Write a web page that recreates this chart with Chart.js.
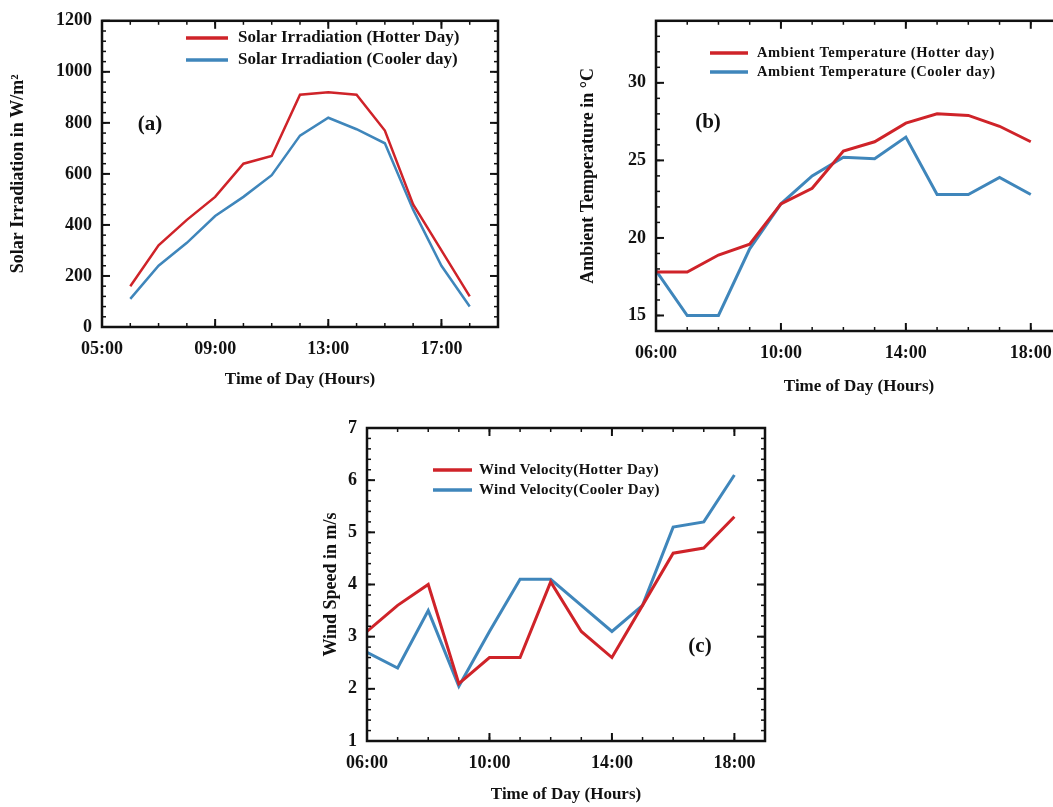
<!DOCTYPE html>
<html>
<head>
<meta charset="utf-8">
<script src="https://cdn.jsdelivr.net/npm/chart.js@4.4.1/dist/chart.umd.min.js"></script>
<style>
  html, body { margin: 0; padding: 0; background: #fff; }
  #page { position: relative; width: 1053px; height: 807px; overflow: hidden; background: #fff; }
  .panel { position: absolute; }
</style>
</head>
<body>
<div id="page">
  <div class="panel" style="left:0px; top:0px;"><canvas id="chartA" width="520" height="400"></canvas></div>
  <div class="panel" style="left:560px; top:0px;"><canvas id="chartB" width="520" height="400"></canvas></div>
  <div class="panel" style="left:300px; top:400px;"><canvas id="chartC" width="500" height="407"></canvas></div>
</div>
<script>
// Data
const hours = [6, 7, 8, 9, 10, 11, 12, 13, 14, 15, 16, 17, 18];

const solarHotter = [160, 320, 420, 510, 640, 670, 910, 920, 910, 770, 480, 300, 120];
const solarCooler = [110, 240, 330, 435, 510, 595, 750, 820, 775, 720, 460, 240, 80];

const tempHotter = [17.8, 17.8, 18.9, 19.6, 22.2, 23.2, 25.6, 26.2, 27.4, 28.0, 27.9, 27.2, 26.2];
const tempCooler = [17.9, 15.0, 15.0, 19.3, 22.2, 24.0, 25.2, 25.1, 26.5, 22.8, 22.8, 23.9, 22.8];

const windHotter = [3.1, 3.6, 4.0, 2.1, 2.6, 2.6, 4.05, 3.1, 2.6, 3.6, 4.6, 4.7, 5.3];
const windCooler = [2.7, 2.4, 3.5, 2.05, 3.1, 4.1, 4.1, 3.6, 3.1, 3.6, 5.1, 5.2, 6.1];

const xTicksA = [5, 9, 13, 17];
const xTicksBC = [6, 10, 14, 18];
const yTicksB = [15, 20, 25, 30];

const RED = '#cf2329';
const BLUE = '#3f86bb';
const SERIF = '"Liberation Serif", "Times New Roman", serif';

function hourLabel(v) {
  return String(v).padStart(2, '0') + ':00';
}

// box, inward ticks, legend and panel letter
const figureDecor = {
  id: 'figureDecor',
  afterDatasetsDraw(chart, args, opts) {
    const ctx = chart.ctx;
    const a = chart.chartArea;
    const xs = chart.scales.x, ys = chart.scales.y;
    ctx.save();
    ctx.strokeStyle = '#111';
    ctx.lineCap = 'butt';

    ctx.lineWidth = 1.5;
    const tick = (x1, y1, x2, y2) => { ctx.beginPath(); ctx.moveTo(x1, y1); ctx.lineTo(x2, y2); ctx.stroke(); };
    // minor ticks
    for (let v = xs.min; v <= xs.max + 1e-9; v += opts.xMinor) {
      const px = xs.getPixelForValue(v);
      tick(px, a.bottom, px, a.bottom - 4);
      tick(px, a.top, px, a.top + 4);
    }
    for (let v = ys.min; v <= ys.max + 1e-9; v += opts.yMinor) {
      const py = ys.getPixelForValue(v);
      tick(a.left, py, a.left + 4, py);
      tick(a.right, py, a.right - 4, py);
    }
    // major ticks
    ctx.lineWidth = 2;
    xs.ticks.forEach(t => {
      const px = xs.getPixelForValue(t.value);
      tick(px, a.bottom, px, a.bottom - 8);
      tick(px, a.top, px, a.top + 8);
    });
    ys.ticks.forEach(t => {
      const py = ys.getPixelForValue(t.value);
      tick(a.left, py, a.left + 8, py);
      tick(a.right, py, a.right - 8, py);
    });
    // frame
    ctx.lineWidth = 2.5;
    ctx.strokeRect(a.left, a.top, a.right - a.left, a.bottom - a.top);

    // legend
    const lg = opts.legend;
    ctx.font = 'bold ' + lg.size + 'px ' + SERIF;
    if (lg.spacing) ctx.letterSpacing = lg.spacing + 'px';
    ctx.textBaseline = 'middle';
    ctx.textAlign = 'left';
    chart.data.datasets.forEach((ds, i) => {
      const y = lg.y + i * lg.gap;
      ctx.strokeStyle = ds.borderColor;
      ctx.lineWidth = 3.5;
      tick(lg.x, y, lg.x + lg.len, y);
      ctx.fillStyle = '#111';
      ctx.fillText(ds.label, lg.x + lg.len + lg.textGap, y);
    });
    ctx.letterSpacing = '0px';

    // panel letter
    ctx.font = 'bold 21px ' + SERIF;
    ctx.textAlign = 'center';
    ctx.fillStyle = '#111';
    ctx.fillText(opts.tag.text, opts.tag.x, opts.tag.y);
    ctx.restore();
  }
};

function makeChart(id, cfg) {
  const canvas = document.getElementById(id);
  return new Chart(canvas, {
    type: 'line',
    data: {
      datasets: [
        { label: cfg.labels[0], data: hours.map((h, i) => ({ x: h, y: cfg.hot[i] })),
          borderColor: RED, borderWidth: cfg.lineWidth, pointRadius: 0, tension: 0 },
        { label: cfg.labels[1], data: hours.map((h, i) => ({ x: h, y: cfg.cool[i] })),
          borderColor: BLUE, borderWidth: cfg.lineWidth, pointRadius: 0, tension: 0 }
      ]
    },
    options: {
      responsive: false,
      animation: false,
      layout: { padding: { left: 0, top: cfg.area.top, right: canvas.width - cfg.area.right, bottom: 0 } },
      plugins: {
        legend: { display: false },
        tooltip: { enabled: false },
        figureDecor: { xMinor: cfg.xMinor, yMinor: cfg.yMinor, legend: cfg.legend, tag: cfg.tag }
      },
      scales: {
        x: {
          type: 'linear',
          min: cfg.xMin, max: cfg.xMax,
          grid: { display: false, drawTicks: false },
          border: { display: false },
          afterFit: s => { s.height = canvas.height - cfg.area.bottom; },
          afterBuildTicks: s => { s.ticks = cfg.xTicks.map(v => ({ value: v })); },
          ticks: {
            padding: cfg.xTickPad,
            maxRotation: 0,
            autoSkip: false,
            color: '#111',
            font: { family: SERIF, size: 18, weight: 'bold' },
            callback: v => hourLabel(v)
          },
          title: {
            display: true, text: 'Time of Day (Hours)', color: '#111',
            font: { family: SERIF, size: 17, weight: 'bold' },
            padding: { top: 0, bottom: cfg.xTitlePad }
          }
        },
        y: {
          min: cfg.yMin, max: cfg.yMax,
          grid: { display: false, drawTicks: false },
          border: { display: false },
          afterFit: s => { s.width = cfg.area.left; },
          afterBuildTicks: cfg.yTicks ? (s => { s.ticks = cfg.yTicks.map(v => ({ value: v })); }) : undefined,
          ticks: {
            stepSize: cfg.yStep,
            padding: 10,
            color: '#111',
            font: { family: SERIF, size: 18, weight: 'bold' },
            callback: v => String(v)
          },
          title: {
            display: true, text: cfg.yTitle, color: '#111',
            font: { family: SERIF, size: 18, weight: 'bold' },
            padding: { top: cfg.yTitlePad, bottom: 0 }
          }
        }
      }
    },
    plugins: [figureDecor]
  });
}

makeChart('chartA', {
  hot: solarHotter, cool: solarCooler,
  labels: ['Solar Irradiation (Hotter Day)', 'Solar Irradiation (Cooler day)'],
  lineWidth: 2.5,
  area: { left: 102, top: 15, right: 498, bottom: 327 },
  xMin: 5, xMax: 19, xTicks: xTicksA, xMinor: 1,
  yMin: 0, yMax: 1200, yStep: 200, yMinor: 40,
  yTitle: 'Solar Irradiation in W/m²',
  xTickPad: 12, xTitlePad: 10, yTitlePad: 8,
  legend: { x: 186, y: 38, gap: 22, len: 42, textGap: 10, size: 17 },
  tag: { text: '(a)', x: 150, y: 125 }
});

makeChart('chartB', {
  hot: tempHotter, cool: tempCooler,
  labels: ['Ambient Temperature (Hotter day)', 'Ambient Temperature (Cooler day)'],
  lineWidth: 3,
  area: { left: 96, top: 13, right: 502, bottom: 331 },
  xMin: 6, xMax: 19, xTicks: xTicksBC, xMinor: 1,
  yMin: 14, yMax: 34, yTicks: yTicksB, yMinor: 1,
  yTitle: 'Ambient Temperature in °C',
  xTickPad: 12, xTitlePad: 3, yTitlePad: 18,
  legend: { x: 150, y: 53, gap: 19, len: 38, textGap: 9, size: 14.5, spacing: 0.6 },
  tag: { text: '(b)', x: 148, y: 123 }
});

makeChart('chartC', {
  hot: windHotter, cool: windCooler,
  labels: ['Wind Velocity(Hotter Day)', 'Wind Velocity(Cooler Day)'],
  lineWidth: 3,
  area: { left: 67, top: 28, right: 465, bottom: 341 },
  xMin: 6, xMax: 19, xTicks: xTicksBC, xMinor: 1,
  yMin: 1, yMax: 7, yStep: 1, yMinor: 0.2,
  yTitle: 'Wind Speed in m/s',
  xTickPad: 12, xTitlePad: 2, yTitlePad: 21,
  legend: { x: 133, y: 70, gap: 20, len: 39, textGap: 7, size: 15, spacing: 0.3 },
  tag: { text: '(c)', x: 400, y: 247 }
});
</script>
</body>
</html>
